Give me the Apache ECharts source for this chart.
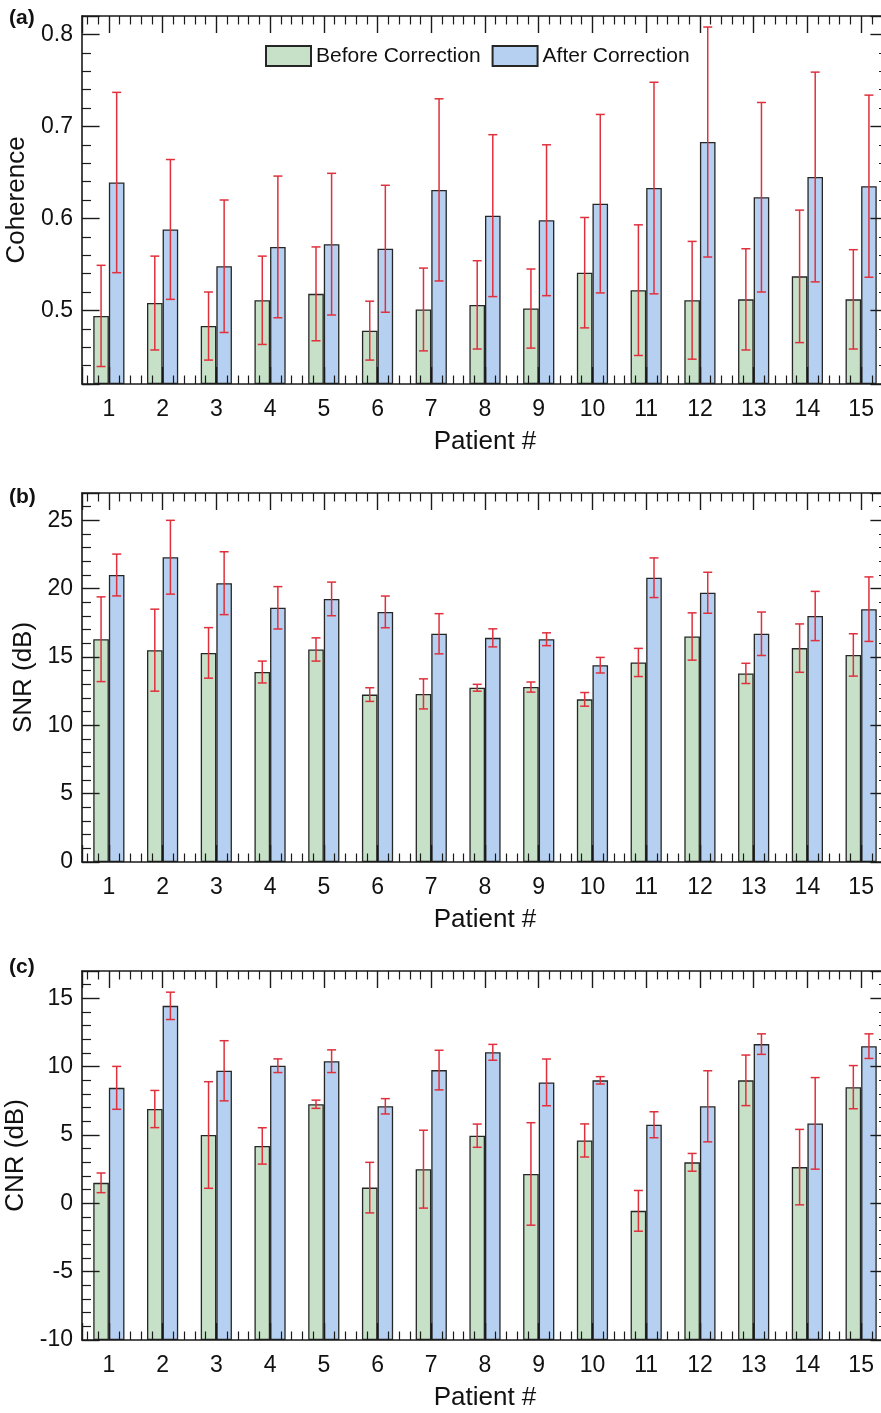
<!DOCTYPE html>
<html><head><meta charset="utf-8">
<script src="https://cdn.jsdelivr.net/npm/echarts@6/dist/echarts.min.js"></script>
<style>html,body{margin:0;padding:0;background:#fff}#c{width:881px;height:1413px}</style>
</head><body><div id="c"></div>
<script>
// ---- data ----
const patients = [1,2,3,4,5,6,7,8,9,10,11,12,13,14,15];
const seriesNames = ['Before Correction', 'After Correction'];

const cohBefore    = [0.494,0.508,0.483,0.511,0.518,0.478,0.501,0.506,0.502,0.541,0.522,0.511,0.512,0.537,0.512];
const cohBeforeErr = [0.055,0.051,0.037,0.048,0.051,0.032,0.045,0.048,0.043,0.060,0.071,0.064,0.055,0.072,0.054];
const cohAfter     = [0.639,0.588,0.548,0.569,0.572,0.567,0.631,0.603,0.598,0.616,0.633,0.683,0.623,0.645,0.635];
const cohAfterErr  = [0.098,0.076,0.072,0.077,0.077,0.069,0.099,0.088,0.082,0.097,0.115,0.125,0.103,0.114,0.099];

const snrBefore    = [16.3,15.5,15.3,13.9,15.55,12.25,12.3,12.75,12.8,11.9,14.6,16.5,13.8,15.65,15.15];
const snrBeforeErr = [3.1,3.0,1.85,0.8,0.85,0.5,1.1,0.25,0.37,0.5,1.03,1.73,0.74,1.77,1.55];
const snrAfter     = [21.0,22.3,20.4,18.6,19.25,18.3,16.7,16.4,16.3,14.4,20.8,19.7,16.7,18.0,18.5];
const snrAfterErr  = [1.53,2.7,2.3,1.55,1.23,1.16,1.47,0.66,0.47,0.57,1.45,1.5,1.59,1.8,2.36];

const cnrBefore    = [1.5,6.9,5.0,4.2,7.25,1.15,2.5,4.95,2.15,4.6,-0.55,3.0,9.0,2.65,8.5];
const cnrBeforeErr = [0.72,1.36,3.9,1.33,0.3,1.85,2.85,0.85,3.75,1.21,1.49,0.65,1.85,2.76,1.58];
const cnrAfter     = [8.45,14.45,9.7,10.07,10.4,7.1,9.75,11.05,8.85,9.0,5.75,7.1,11.65,5.85,11.5];
const cnrAfterErr  = [1.57,1.0,2.2,0.5,0.83,0.56,1.45,0.58,1.71,0.27,0.95,2.6,0.75,3.35,0.9];

const xRange = [0.5, 15.5];
const cohRange = [0.42, 0.82], cohStep = 0.1;
const snrRange = [0, 27], snrStep = 5;
const cnrRange = [-10, 17], cnrStep = 5;

// ---- style ----
const FONT = 'Liberation Sans, Arial, Helvetica, sans-serif';
const AX = '#1a1a1a';
const GREEN = '#c6e1c7';
const BLUE = '#b6d0f1';
const EDGE = '#262626';
const RED = '#e0303c';
const BW = 15.6;

const panels = [
  {label:'(a)', labelTop:8, top:16, height:368, yName:'Coherence', nameGap:44, range:cohRange, step:cohStep, dec:1,
   before:cohBefore, beforeErr:cohBeforeErr, after:cohAfter, afterErr:cohAfterErr},
  {label:'(b)', labelTop:487, top:493, height:369, yName:'SNR (dB)', nameGap:40, range:snrRange, step:snrStep, dec:0,
   before:snrBefore, beforeErr:snrBeforeErr, after:snrAfter, afterErr:snrAfterErr},
  {label:'(c)', labelTop:957, top:971, height:369, yName:'CNR (dB)', nameGap:40, range:cnrRange, step:cnrStep, dec:0,
   before:cnrBefore, beforeErr:cnrBeforeErr, after:cnrAfter, afterErr:cnrAfterErr}
];

const grid = [], xAxis = [], yAxis = [], series = [], title = [];

panels.forEach((p, gi) => {
  grid.push({left:82, top:p.top, width:806, height:p.height, outerBoundsMode:'none', containLabel:false});
  title.push({text:p.label, left:9, top:p.labelTop, padding:0,
    textStyle:{fontFamily:FONT, fontSize:21, fontWeight:'bold', color:'#111'}});

  const xBase = {type:'value', gridIndex:gi, min:xRange[0], max:xRange[1], minInterval:1, maxInterval:1, z:5,
    axisLine:{show:true, onZero:false, lineStyle:{color:AX, width:1.6}},
    axisTick:{show:true, inside:true, length:17, lineStyle:{color:AX, width:1.4}},
    minorTick:{show:true, splitNumber:5, length:8.5, lineStyle:{color:AX, width:1.2}},
    splitLine:{show:false}, minorSplitLine:{show:false}};
  xAxis.push(Object.assign({}, xBase, {position:'bottom', name:'Patient #', nameLocation:'middle', nameGap:45,
    nameTextStyle:{fontFamily:FONT, fontSize:26, color:'#111'},
    axisLabel:{show:true, margin:14, fontFamily:FONT, fontSize:23, color:'#111',
      formatter:v => (Math.abs(v - Math.round(v)) < 1e-6) ? String(Math.round(v)) : ''}}));
  xAxis.push(Object.assign({}, xBase, {position:'top', axisLabel:{show:false}}));

  const yBase = {type:'value', gridIndex:gi, min:p.range[0], max:p.range[1], minInterval:p.step, maxInterval:p.step,
    startValue:p.range[0], z:5,
    axisLine:{show:true, onZero:false, lineStyle:{color:AX, width:1.6}},
    axisTick:{show:true, inside:true, length:17.6, lineStyle:{color:AX, width:1.4}},
    minorTick:{show:true, splitNumber:5, length:9, lineStyle:{color:AX, width:1.2}},
    splitLine:{show:false}, minorSplitLine:{show:false}};
  const st = p.step;
  yAxis.push(Object.assign({}, yBase, {position:'left', name:p.yName, nameLocation:'middle', nameGap:p.nameGap,
    nameTextStyle:{fontFamily:FONT, fontSize:26, color:'#111'},
    axisLabel:{show:true, margin:9, fontFamily:FONT, fontSize:23, color:'#111',
      formatter:v => { const k = v / st; return (Math.abs(k - Math.round(k)) < 1e-6) ? v.toFixed(p.dec) : ''; }}}));
  yAxis.push(Object.assign({}, yBase, {position:'right', axisLabel:{show:false}}));

  const xi = 2*gi, yi = 2*gi;
  [[p.before, GREEN, seriesNames[0]], [p.after, BLUE, seriesNames[1]]].forEach(([vals, col, nm]) => {
    series.push({type:'bar', name:nm, xAxisIndex:xi, yAxisIndex:yi, barWidth:BW, barGap:'0%',
      data:patients.map((pt,i) => [pt, vals[i]]), z:2, animation:false,
      itemStyle:{color:col, borderColor:EDGE, borderWidth:1.3}, emphasis:{disabled:true}});
  });
  [[p.before, p.beforeErr, -BW/2], [p.after, p.afterErr, BW/2]].forEach(([vals, errs, off]) => {
    series.push({type:'custom', xAxisIndex:xi, yAxisIndex:yi, z:6, animation:false, silent:true,
      encode:{x:0, y:1},
      data:patients.map((pt,i) => [pt, vals[i], errs[i]]),
      renderItem:(params, api) => {
        const x = api.value(0), m = api.value(1), e = api.value(2);
        const t = api.coord([x, m + e]), b = api.coord([x, m - e]);
        const cx = t[0] + off, cap = 4.5;
        const s = {stroke:RED, lineWidth:1.5};
        return {type:'group', children:[
          {type:'line', shape:{x1:cx, y1:t[1], x2:cx, y2:b[1]}, style:s},
          {type:'line', shape:{x1:cx-cap, y1:t[1], x2:cx+cap, y2:t[1]}, style:s},
          {type:'line', shape:{x1:cx-cap, y1:b[1], x2:cx+cap, y2:b[1]}, style:s}
        ]};
      }});
  });
});

const chart = echarts.init(document.getElementById('c'), null, {renderer:'canvas'});
chart.setOption({
  animation:false,
  backgroundColor:'#ffffff',
  title, grid, xAxis, yAxis, series,
  legend:{left:265, top:45, padding:0, itemWidth:45, itemHeight:20, itemGap:11, icon:'rect',
    selectedMode:false, data:seriesNames,
    textStyle:{fontFamily:FONT, fontSize:21, color:'#111'}}
});
</script></body></html>
